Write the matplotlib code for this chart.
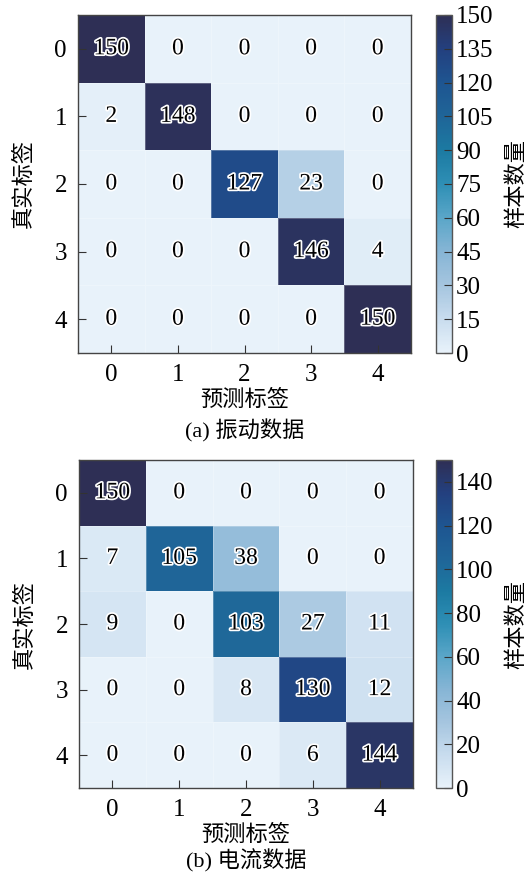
import numpy as np
import matplotlib
matplotlib.use("Agg")
import matplotlib.pyplot as plt
import matplotlib.patheffects as pe
from matplotlib.colors import LinearSegmentedColormap

plt.rcParams["font.family"] = ["Liberation Serif", "Noto Sans CJK SC"]
plt.rcParams["axes.unicode_minus"] = False

# Data
labels = ["0", "1", "2", "3", "4"]
cm_vibration = np.array([
    [150, 0, 0, 0, 0],
    [2, 148, 0, 0, 0],
    [0, 0, 127, 23, 0],
    [0, 0, 0, 146, 4],
    [0, 0, 0, 0, 150],
])
cm_current = np.array([
    [150, 0, 0, 0, 0],
    [7, 105, 38, 0, 0],
    [9, 0, 103, 27, 11],
    [0, 0, 8, 130, 12],
    [0, 0, 0, 6, 144],
])
captions = ["(a) 振动数据", "(b) 电流数据"]
cbar_ticks = [np.arange(0, 151, 15), np.arange(0, 141, 20)]

cmap = LinearSegmentedColormap.from_list("ice_blue", [
    "#e8f2fa", "#c8dcee", "#a5c5df", "#86b5d5", "#5aa6c8", "#2e8fb5",
    "#1c7aa2", "#1f6598", "#1e5591", "#23407f", "#2e2f55"])

fig = plt.figure(figsize=(5.32, 8.72), dpi=100)

# axes boxes in pixels (left, top, width, height)
W, H = 532, 872
heat_boxes = [(78, 15, 333, 338), (79, 460, 334, 328)]
cbar_boxes = [(436, 15, 16, 338), (436, 460, 16, 328)]
caption_y = [431, 861]

for k, (cm, cap, ticks) in enumerate(zip([cm_vibration, cm_current], captions, cbar_ticks)):
    x0, y0, w, h = heat_boxes[k]
    ax = fig.add_axes([x0 / W, 1 - (y0 + h) / H, w / W, h / H])
    cx0, cy0, cw, ch = cbar_boxes[k]
    cax = fig.add_axes([cx0 / W, 1 - (cy0 + ch) / H, cw / W, ch / H])

    vmax = cm.max()
    mesh = ax.pcolormesh(cm, cmap=cmap, vmin=0, vmax=vmax,
                         edgecolor=(1, 1, 1, 0.25), linewidth=0.4)
    ax.set_xlim(0, 5)
    ax.set_ylim(5, 0)
    ax.set_xticks(np.arange(5) + 0.5)
    ax.set_yticks(np.arange(5) + 0.5)
    ax.set_xticklabels(labels)
    ax.set_yticklabels(labels, rotation=0)
    ax.tick_params(direction="in", length=6, width=0.8, labelsize=18, pad=8, color="#333333")
    for sp in ax.spines.values():
        sp.set_color("#444444")
        sp.set_linewidth(1.0)

    for i in range(5):
        for j in range(5):
            ax.text(j + 0.5, i + 0.5, str(cm[i, j]), ha="center", va="center",
                    fontsize=17, color="black",
                    path_effects=[pe.withStroke(linewidth=2.5, foreground="white")])

    ax.set_xlabel("预测标签", fontsize=16, labelpad=3)
    ax.set_ylabel("真实标签", fontsize=16, labelpad=14)

    cb = fig.colorbar(mesh, cax=cax)
    cb.set_ticks(ticks)
    cb.ax.tick_params(direction="in", length=6, width=0.8, labelsize=18, pad=3, color="#333333")
    cb.outline.set_edgecolor("#555555")
    cb.outline.set_linewidth(1.0)
    cb.set_label("样本数量", fontsize=16, labelpad=9)

    fig.text((x0 + w / 2) / W, 1 - caption_y[k] / H, cap, ha="center", va="center", fontsize=16)

fig.savefig("out.png", dpi=100)
